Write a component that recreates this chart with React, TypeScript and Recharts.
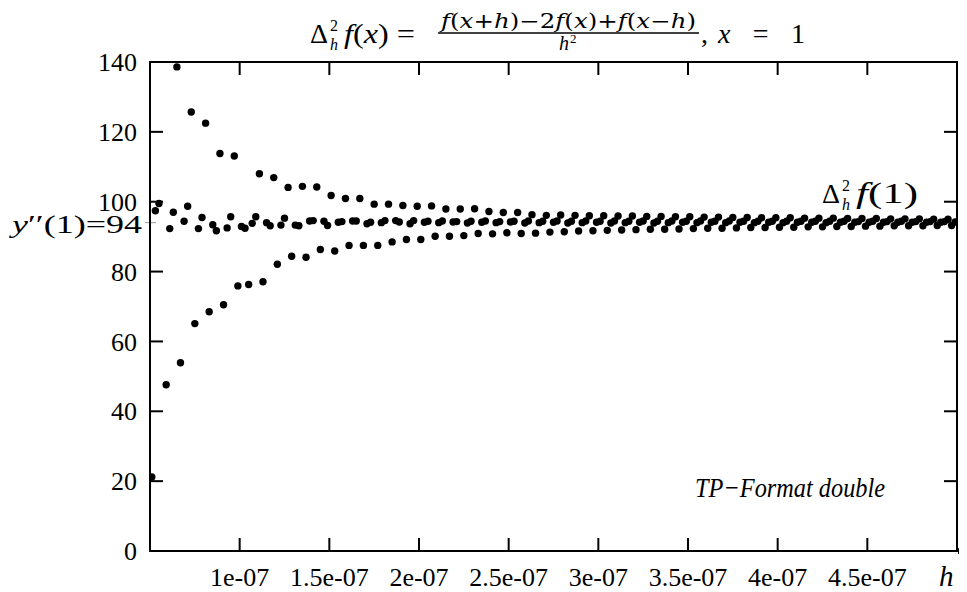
import React from "react";
import { ScatterChart, Scatter, XAxis, YAxis } from "recharts";

// h is stored in units of 1e-9, value is the second difference quotient
const upperBranch: [number, number][] = [
  [65, 138.6], [73, 125.7], [81, 122.5], [89, 113.8], [97, 113.1],
  [111, 108.0], [119, 106.9], [127, 104.1], [135, 104.4], [143, 104.2],
  [151, 101.8], [159, 100.9], [167, 100.9], [175, 99.3], [183, 99.3],
  [191, 98.9], [199, 98.7], [207, 98.8], [215, 97.9], [223, 97.9],
  [231, 98.0], [239, 97.2], [247, 96.9], [255, 96.9], [263, 96.3],
  [271, 96.1], [279, 96.2], [287, 96.1], [295, 96.0], [303, 96.0],
  [311, 95.9], [319, 95.9], [327, 95.8], [335, 95.8], [343, 95.7],
  [351, 95.7], [359, 95.6], [367, 95.6], [375, 95.5], [383, 95.5],
  [391, 95.4], [399, 95.4], [407, 95.4], [415, 95.3], [423, 95.3],
  [431, 95.3], [439, 95.2], [447, 95.2], [455, 95.2], [463, 95.1],
  [471, 95.1], [479, 95.1], [487, 95.0], [495, 95.0],
];

const middleBranch: [number, number][] = [
  [53, 97.4], [55, 99.5], [61, 92.3], [63, 97.0], [69, 94.4], [71, 98.7],
  [77, 92.3], [79, 95.5], [85, 93.4], [87, 91.7], [93, 92.5], [95, 95.7],
  [101, 92.9], [103, 92.4], [107, 93.8], [109, 95.7], [115, 94.0], [117, 93.1],
  [123, 93.3], [125, 95.3], [131, 93.3], [133, 93.1], [139, 94.5], [141, 94.6],
  [147, 94.4], [149, 93.2], [155, 94.1], [157, 94.3], [163, 94.5], [165, 94.5],
  [171, 93.7], [173, 94.1], [179, 94.0], [181, 94.6], [187, 94.6], [189, 94.2],
  [195, 93.7], [197, 94.6], [203, 94.1], [205, 94.4], [211, 94.0], [213, 94.5],
  [219, 94.2], [221, 94.3], [227, 93.9], [229, 94.4], [235, 94.1], [237, 94.5],
  [243, 94.0], [245, 94.3], [251, 94.2], [253, 94.4], [259, 93.9], [261, 94.5],
  [267, 94.0], [269, 94.4], [275, 94.1], [277, 94.5], [283, 93.9], [285, 94.4],
  [291, 94.0], [293, 94.5], [299, 94.1], [301, 94.4], [307, 93.9], [309, 94.5],
  [315, 94.0], [317, 94.4], [323, 94.1], [325, 94.5], [331, 93.9], [333, 94.4],
  [339, 94.0], [341, 94.5], [347, 94.1], [349, 94.4], [355, 94.0], [357, 94.5],
  [363, 94.1], [365, 94.4], [371, 94.0], [373, 94.5], [379, 94.1], [381, 94.4],
  [387, 94.0], [389, 94.4], [395, 94.1], [397, 94.4], [403, 94.0], [405, 94.4],
  [411, 94.1], [413, 94.4], [419, 94.1], [421, 94.4], [427, 94.0], [429, 94.4],
  [435, 94.1], [437, 94.4], [443, 94.1], [445, 94.3], [451, 94.1], [453, 94.4],
  [459, 94.1], [461, 94.3], [467, 94.1], [469, 94.4], [475, 94.1], [477, 94.3],
  [483, 94.1], [485, 94.3], [491, 94.1], [493, 94.3], [499, 94.2],
];

const lowerBranch: [number, number][] = [
  [51, 21.2], [59, 47.6], [67, 53.9], [75, 65.1], [83, 68.5], [91, 70.5],
  [99, 75.9], [105, 76.3], [113, 77.1], [121, 82.1], [129, 84.4], [137, 84.1],
  [145, 86.3], [153, 85.9], [161, 87.5], [169, 87.5], [177, 87.5], [185, 88.5],
  [193, 89.2], [201, 89.2], [209, 90.1], [217, 90.1], [225, 90.3], [233, 90.9],
  [241, 90.8], [249, 91.1], [257, 90.9], [265, 91.0], [273, 91.3], [281, 91.4],
  [289, 91.6], [297, 91.7], [305, 91.8], [313, 91.9], [321, 92.0], [329, 92.1],
  [337, 92.1], [345, 92.2], [353, 92.3], [361, 92.4], [369, 92.4], [377, 92.5],
  [385, 92.6], [393, 92.6], [401, 92.7], [409, 92.7], [417, 92.8], [425, 92.8],
  [433, 92.9], [441, 92.9], [449, 93.0], [457, 93.0], [465, 93.1], [473, 93.1],
  [481, 93.1], [489, 93.2], [497, 93.2],
];

const xTicks = [100, 150, 200, 250, 300, 350, 400, 450];
const xTickLabels = ["1e-07", "1.5e-07", "2e-07", "2.5e-07", "3e-07", "3.5e-07", "4e-07", "4.5e-07"];
const yTicks = [0, 20, 40, 60, 80, 94, 100, 120, 140];

const W = 959;
const H = 584;
const LEFT = 142;
const RIGHT = 949;
const TOP = 54;
const BOTTOM = 543;
const FONT = "Liberation Serif, DejaVu Serif, serif";
const WIDE_FONT = "DejaVu Serif, Liberation Serif, serif";
const TICK_LEN = 13;

const toRows = (pts: [number, number][]) => pts.map(([h, v]) => ({ h, v }));

const Dot = (p: any) => <circle cx={p.cx} cy={p.cy} r={3.7} fill="#000" />;

const YTick = (props: any) => {
  const { y, payload } = props;
  const v = payload.value;
  if (v === 94) {
    return (
      <g>
        <line x1={LEFT - 5} x2={LEFT + 6} y1={y} y2={y} stroke="#999" strokeWidth={1} />
        <text x={4} y={y + 2} dy="0.35em" fontFamily={FONT} fontSize={25} fill="#000" textLength={130} lengthAdjust="spacingAndGlyphs">
          <tspan fontStyle="italic">y</tspan>
          <tspan>′′(1)=94</tspan>
        </text>
      </g>
    );
  }
  const inner = v > 0 && v < 140;
  return (
    <g>
      {inner && <line x1={LEFT} x2={LEFT + TICK_LEN} y1={y} y2={y} stroke="#000" strokeWidth={2} />}
      {inner && <line x1={RIGHT - TICK_LEN} x2={RIGHT} y1={y} y2={y} stroke="#000" strokeWidth={2} />}
      <text x={LEFT - 13} y={y} dy="0.35em" textAnchor="end" fontFamily={FONT} fontSize={26} fill="#000">
        {v}
      </text>
    </g>
  );
};

const XTick = (props: any) => {
  const { x, payload } = props;
  const i = xTicks.indexOf(payload.value);
  return (
    <g>
      <line x1={x} x2={x} y1={BOTTOM} y2={BOTTOM - TICK_LEN} stroke="#000" strokeWidth={2} />
      <line x1={x} x2={x} y1={TOP} y2={TOP + TICK_LEN} stroke="#000" strokeWidth={2} />
      <text x={x} y={578} textAnchor="middle" fontFamily={FONT} fontSize={26} fill="#000">
        {xTickLabels[i]}
      </text>
    </g>
  );
};

export default function App() {
  return (
    <div style={{ position: "relative", width: W, height: H }}>
      <ScatterChart width={W} height={H} margin={{ top: TOP, right: W - RIGHT, left: 0, bottom: 0 }}>
        <XAxis
          type="number"
          dataKey="h"
          domain={[50, 500]}
          ticks={xTicks}
          interval={0}
          allowDataOverflow
          axisLine={false}
          tickLine={false}
          height={H - BOTTOM}
          tick={<XTick />}
        />
        <YAxis
          type="number"
          dataKey="v"
          domain={[0, 140]}
          ticks={yTicks}
          interval={0}
          allowDataOverflow
          axisLine={false}
          tickLine={false}
          width={LEFT}
          tick={<YTick />}
        />
        <Scatter data={toRows(lowerBranch)} shape={<Dot />} isAnimationActive={false} />
        <Scatter data={toRows(middleBranch)} shape={<Dot />} isAnimationActive={false} />
        <Scatter data={toRows(upperBranch)} shape={<Dot />} isAnimationActive={false} />
      </ScatterChart>
      <svg width={W} height={H} style={{ position: "absolute", left: 0, top: 0, pointerEvents: "none" }}>
        <rect x={LEFT} y={TOP} width={RIGHT - LEFT} height={BOTTOM - TOP} fill="none" stroke="#000" strokeWidth={2} />
        <polygon points={`${RIGHT + 1},${BOTTOM - 3} ${RIGHT + 9},${BOTTOM} ${RIGHT + 1},${BOTTOM + 3}`} fill="#000" />
        <text x={931} y={578} fontFamily={FONT} fontSize={29} fontStyle="italic" fill="#000">h</text>

        {/* title */}
        <g fontFamily={FONT} fill="#000">
          <text x={302} y={35} fontSize={28}>Δ</text>
          <text x={322} y={23} fontSize={16}>2</text>
          <text x={322} y={42} fontSize={16} fontStyle="italic">h</text>
          <text x={336} y={35} fontSize={28} textLength={71} lengthAdjust="spacingAndGlyphs">
            <tspan fontStyle="italic">f</tspan>(<tspan fontStyle="italic">x</tspan>) =
          </text>
          <text x={433} y={20} fontFamily={WIDE_FONT} fontSize={20} textLength={255} lengthAdjust="spacingAndGlyphs">
            <tspan fontStyle="italic">f</tspan>(<tspan fontStyle="italic">x</tspan>+<tspan fontStyle="italic">h</tspan>)−2<tspan fontStyle="italic">f</tspan>(<tspan fontStyle="italic">x</tspan>)+<tspan fontStyle="italic">f</tspan>(<tspan fontStyle="italic">x</tspan>−<tspan fontStyle="italic">h</tspan>)
          </text>
          <line x1={430} x2={691} y1={25} y2={25} stroke="#000" strokeWidth={1.5} />
          <text x={551} y={42} fontSize={20} fontStyle="italic">h</text>
          <text x={562} y={35} fontSize={13}>2</text>
          <text x={693} y={35} fontSize={28}>,</text>
          <text x={710} y={35} fontSize={28} textLength={87} lengthAdjust="spacing">
            <tspan fontStyle="italic">x</tspan> = 1
          </text>
        </g>

        {/* curve label */}
        <g fontFamily={FONT} fill="#000">
          <text x={814} y={195} fontSize={28}>Δ</text>
          <text x={834} y={183} fontSize={16}>2</text>
          <text x={834} y={202} fontSize={16} fontStyle="italic">h</text>
          <text x={848} y={195} fontSize={30} textLength={62} lengthAdjust="spacingAndGlyphs">
            <tspan fontStyle="italic">f</tspan>(1)
          </text>
        </g>

        <text x={687} y={489} fontFamily={FONT} fontSize={28} fontStyle="italic" fill="#000" textLength={190} lengthAdjust="spacingAndGlyphs">
          TP−Format double
        </text>
      </svg>
    </div>
  );
}
